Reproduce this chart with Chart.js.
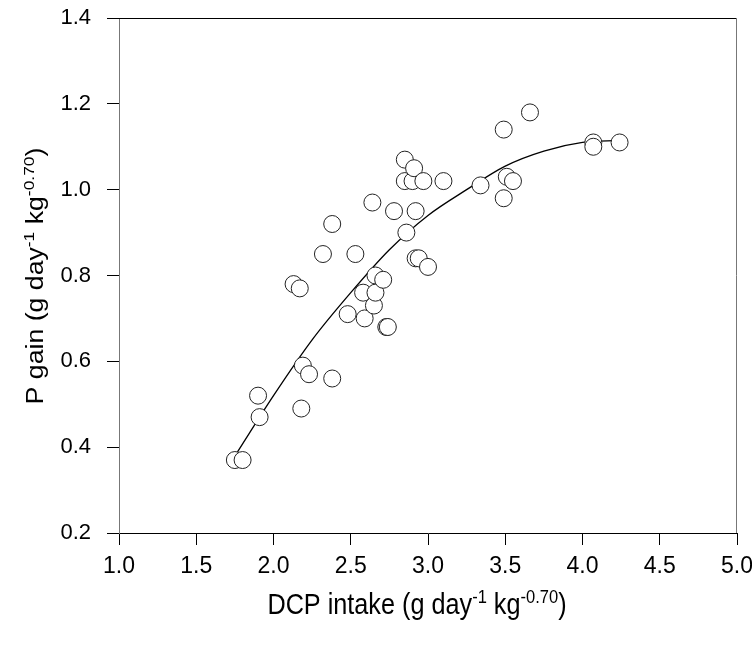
<!DOCTYPE html>
<html>
<head>
<meta charset="utf-8">
<script src="https://cdn.jsdelivr.net/npm/chart.js"></script>
<style>
  html, body { margin: 0; padding: 0; background: #fff; }
  #wrap { width: 752px; height: 646px; }
</style>
</head>
<body>
<div id="wrap"><canvas id="myChart" width="752" height="646"></canvas></div>
<script>
// observed points: DCP intake vs P gain
const dcpIntake = [1.75, 1.80, 1.90, 1.91, 2.13, 2.17, 2.19, 2.23, 2.18, 2.38,
                   2.32, 2.38, 2.48, 2.53, 2.58, 2.59, 2.64, 2.65, 2.66, 2.66,
                   2.71, 2.73, 2.74, 2.78, 2.85, 2.85, 2.90, 2.91, 2.86, 2.92,
                   2.92, 2.94, 2.97, 3.00, 3.10, 3.34, 3.49, 3.49, 3.51, 3.55,
                   3.66, 4.07, 4.07, 4.24];
const pGain = [0.37, 0.37, 0.52, 0.47, 0.78, 0.77, 0.59, 0.57, 0.49, 0.56,
               0.85, 0.92, 0.71, 0.85, 0.76, 0.70, 0.97, 0.73, 0.80, 0.76,
               0.79, 0.68, 0.68, 0.95, 1.07, 1.02, 1.02, 1.05, 0.90, 0.95,
               0.84, 0.84, 1.02, 0.82, 1.02, 1.01, 1.14, 0.98, 1.03, 1.02,
               1.18, 1.11, 1.10, 1.11];

// fitted curve
const curveX = [1.76, 2.0, 2.25, 2.5, 2.75, 3.0, 3.25, 3.5, 3.75, 4.0, 4.24];
const curveY = [0.385, 0.52, 0.65, 0.76, 0.86, 0.94, 1.00, 1.055, 1.09, 1.11, 1.115];

const xTicks = [1.0, 1.5, 2.0, 2.5, 3.0, 3.5, 4.0, 4.5, 5.0];
const yTicks = [0.2, 0.4, 0.6, 0.8, 1.0, 1.2, 1.4];

const FONT = '"Liberation Sans", Arial, sans-serif';
const NARROW = '"Liberation Sans Narrow", "Arial Narrow", "Liberation Sans", sans-serif';

const points = dcpIntake.map((x, i) => ({ x: x, y: pGain[i] }));
const curve = curveX.map((x, i) => ({ x: x, y: curveY[i] }));

// box edges + axis titles with superscripts
const frameAndTitles = {
  id: 'frameAndTitles',
  afterDraw(chart) {
    const ctx = chart.ctx;
    const a = chart.chartArea;
    ctx.save();
    ctx.lineWidth = 1;
    ctx.strokeStyle = '#000';
    ctx.beginPath();
    ctx.moveTo(a.left, a.top + 0.5); ctx.lineTo(a.right, a.top + 0.5);
    ctx.stroke();
    ctx.strokeStyle = '#777';
    ctx.beginPath();
    ctx.moveTo(a.right - 0.5, a.top); ctx.lineTo(a.right - 0.5, a.bottom);
    ctx.stroke();

    function measure(parts, size, supSize) {
      let w = 0;
      parts.forEach(p => {
        ctx.font = (p.sup ? supSize : size) + 'px ' + FONT;
        p.w = ctx.measureText(p.t).width;
        w += p.w;
      });
      return w;
    }
    function drawParts(parts, x0, y0, size, supSize, rise) {
      let x = x0;
      parts.forEach(p => {
        ctx.font = (p.sup ? supSize : size) + 'px ' + FONT;
        ctx.fillText(p.t, x, p.sup ? y0 - rise : y0);
        x += p.w;
      });
    }
    ctx.fillStyle = '#000';
    ctx.textBaseline = 'alphabetic';
    ctx.textAlign = 'left';

    // x title: slightly condensed
    const xt = [{ t: 'DCP intake (g day' }, { t: '-1', sup: true }, { t: ' kg' },
                { t: '-0.70', sup: true }, { t: ')' }];
    let w = measure(xt, 29, 19);
    ctx.save();
    ctx.translate(417, 614);
    ctx.scale(0.87, 1);
    drawParts(xt, -w / 2, 0, 29, 19, 11);
    ctx.restore();

    // y title: rotated, slightly stretched along its length
    const yt = [{ t: 'P gain (g day' }, { t: '-1', sup: true }, { t: ' kg' },
                { t: '-0.70', sup: true }, { t: ')' }];
    w = measure(yt, 23, 15);
    ctx.save();
    ctx.translate(43, 276);
    ctx.rotate(-Math.PI / 2);
    ctx.scale(1.16, 1);
    drawParts(yt, -w / 2, 0, 23, 15, 9);
    ctx.restore();
    ctx.restore();
  }
};

const config = {
  data: {
    datasets: [
      {
        type: 'scatter',
        data: points,
        pointRadius: 8.5,
        pointHoverRadius: 8.5,
        pointBorderWidth: 1,
        borderColor: '#222',
        backgroundColor: '#fff',
        pointBackgroundColor: '#fff'
      },
      {
        type: 'line',
        data: curve,
        borderColor: '#000',
        borderWidth: 1.3,
        pointRadius: 0,
        fill: false,
        cubicInterpolationMode: 'monotone'
      }
    ]
  },
  options: {
    responsive: false,
    animation: false,
    layout: { padding: { top: 18, right: 15, left: 0, bottom: 0 } },
    plugins: { legend: { display: false }, tooltip: { enabled: false } },
    scales: {
      x: {
        type: 'linear',
        min: 1.0, max: 5.0,
        afterBuildTicks: s => { s.ticks = xTicks.map(v => ({ value: v })); },
        afterFit: s => { s.height = 113; s.paddingLeft = 0; s.paddingRight = 0; },
        ticks: {
          callback: v => v.toFixed(1),
          color: '#000',
          font: { family: NARROW, size: 23 },
          padding: 8,
          maxRotation: 0
        },
        grid: { drawOnChartArea: false, drawTicks: true, tickLength: 12, color: '#000' },
        border: { display: true, color: '#000', width: 1 }
      },
      y: {
        type: 'linear',
        min: 0.2, max: 1.4,
        afterBuildTicks: s => { s.ticks = yTicks.map(v => ({ value: v })); },
        afterFit: s => { s.width = 119; s.paddingTop = 0; s.paddingBottom = 0; },
        ticks: {
          callback: v => v.toFixed(1),
          color: '#000',
          font: { family: FONT, size: 22 },
          padding: 16
        },
        grid: { drawOnChartArea: false, drawTicks: true, tickLength: 12, color: '#000' },
        border: { display: true, color: '#777', width: 1 }
      }
    }
  },
  plugins: [frameAndTitles]
};

const myChart = new Chart(document.getElementById('myChart'), config);
</script>
</body>
</html>
